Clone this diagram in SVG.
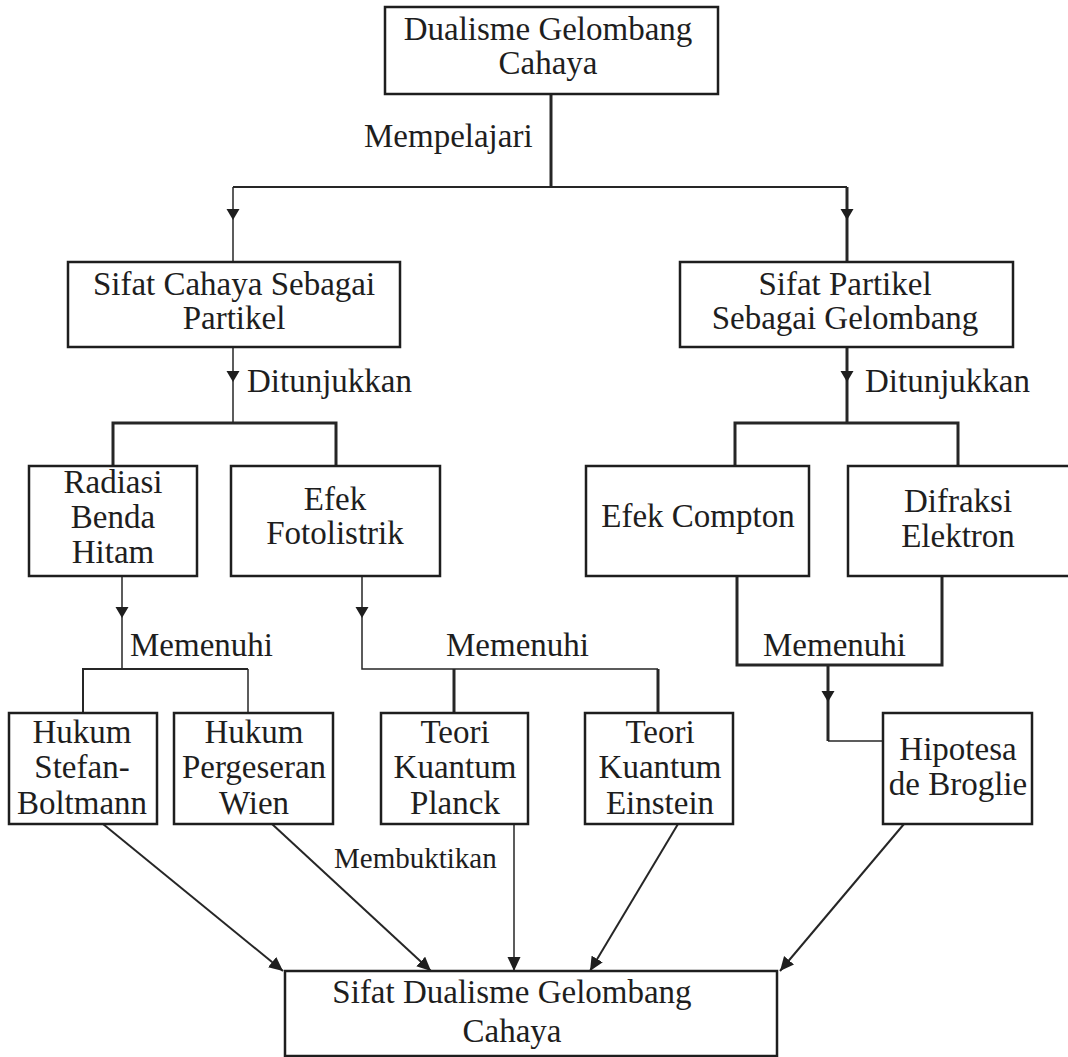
<svg xmlns="http://www.w3.org/2000/svg" width="1068" height="1057" viewBox="0 0 1068 1057">
<style>
text{font-family:"Liberation Serif","Times New Roman",serif;font-size:33px;fill:#1e1e1e;}
.n text{text-anchor:middle;}
.box{fill:#fff;stroke:#1e1e1e;stroke-width:2.5;}
.c path{fill:none;stroke:#262626;}
.t1{stroke-width:1.5;}
.t2{stroke-width:2;}
.t3{stroke-width:3;}
.small{font-size:29px;}
</style>
<defs>
<path id="ah" d="M-6.5,-11 L6.5,-11 L0,0 Z" fill="#1e1e1e"/>
<marker id="arr" markerUnits="userSpaceOnUse" markerWidth="16" markerHeight="14" refX="14" refY="6.5" orient="auto">
<path d="M0,0 L14,6.5 L0,13 Z" fill="#1e1e1e"/>
</marker>
</defs>
<rect width="1068" height="1057" fill="#fff"/>

<g id="connectors" class="c">
<path class="t3" d="M551,94 V187"/>
<path class="t2" d="M233,187 H847"/>
<path class="t1" d="M233,187 V262"/>
<path class="t3" d="M847,187 V262"/>
<path class="t1" d="M233,347 V423"/>
<path class="t3" d="M113,466 V423 H336 V466"/>
<path class="t3" d="M847,347 V423"/>
<path class="t3" d="M735,466 V423 H958 V466"/>
<path class="t1" d="M122,576 V669"/>
<path class="t2" d="M83,713 V669 H248"/>
<path class="t1" d="M248,669 V713"/>
<path class="t1" d="M362,576 V669 H658"/>
<path class="t3" d="M454,669 V713"/>
<path class="t3" d="M658,669 V713"/>
<path class="t3" d="M737,576 V665 H942 V576"/>
<path class="t3" d="M828,665 V741"/>
<path class="t1" d="M828,741 H883"/>
<path class="t2" d="M103,824 L283,971" marker-end="url(#arr)"/>
<path class="t2" d="M272,824 L431,971" marker-end="url(#arr)"/>
<path class="t1" d="M514,824 L514,971" marker-end="url(#arr)"/>
<path class="t2" d="M678,824 L590,971" marker-end="url(#arr)"/>
<path class="t2" d="M904,824 L780,971" marker-end="url(#arr)"/>
<use href="#ah" x="233" y="220"/>
<use href="#ah" x="847" y="220"/>
<use href="#ah" x="233" y="382"/>
<use href="#ah" x="847" y="382"/>
<use href="#ah" x="122" y="618"/>
<use href="#ah" x="362" y="618"/>
<use href="#ah" x="828" y="702"/>
<text x="364" y="147">Mempelajari</text>
<text x="247" y="392">Ditunjukkan</text>
<text x="865" y="392">Ditunjukkan</text>
<text x="130" y="656">Memenuhi</text>
<text x="446" y="656">Memenuhi</text>
<text x="763" y="656">Memenuhi</text>
<text class="small" x="334" y="868">Membuktikan</text>
</g>

<g id="n-dualisme" class="n">
<rect class="box" x="385" y="7" width="333" height="87"/>
<text x="548" y="40">Dualisme Gelombang</text>
<text x="548" y="74">Cahaya</text>
</g>
<g id="n-cahaya-partikel" class="n">
<rect class="box" x="68" y="262" width="332" height="85"/>
<text x="234" y="295">Sifat Cahaya Sebagai</text>
<text x="234" y="329">Partikel</text>
</g>
<g id="n-partikel-gelombang" class="n">
<rect class="box" x="680" y="262" width="333" height="85"/>
<text x="845" y="295">Sifat Partikel</text>
<text x="845" y="329">Sebagai Gelombang</text>
</g>
<g id="n-radiasi" class="n">
<rect class="box" x="29" y="466" width="168" height="110"/>
<text x="113" y="493">Radiasi</text>
<text x="113" y="528">Benda</text>
<text x="113" y="563">Hitam</text>
</g>
<g id="n-fotolistrik" class="n">
<rect class="box" x="231" y="466" width="209" height="110"/>
<text x="335" y="510">Efek</text>
<text x="335" y="544">Fotolistrik</text>
</g>
<g id="n-compton" class="n">
<rect class="box" x="586" y="466" width="223" height="110"/>
<text x="698" y="527">Efek Compton</text>
</g>
<g id="n-difraksi" class="n">
<rect class="box" x="848" y="466" width="230" height="110"/>
<text x="958" y="512">Difraksi</text>
<text x="958" y="547">Elektron</text>
</g>
<g id="n-stefan" class="n">
<rect class="box" x="9" y="713" width="148" height="111"/>
<text x="82" y="743">Hukum</text>
<text x="82" y="778">Stefan-</text>
<text x="82" y="814">Boltmann</text>
</g>
<g id="n-wien" class="n">
<rect class="box" x="174" y="713" width="159" height="111"/>
<text x="254" y="743">Hukum</text>
<text x="254" y="778">Pergeseran</text>
<text x="254" y="814">Wien</text>
</g>
<g id="n-planck" class="n">
<rect class="box" x="381" y="713" width="147" height="111"/>
<text x="455" y="743">Teori</text>
<text x="455" y="778">Kuantum</text>
<text x="455" y="814">Planck</text>
</g>
<g id="n-einstein" class="n">
<rect class="box" x="585" y="713" width="148" height="111"/>
<text x="660" y="743">Teori</text>
<text x="660" y="778">Kuantum</text>
<text x="660" y="814">Einstein</text>
</g>
<g id="n-broglie" class="n">
<rect class="box" x="883" y="713" width="149" height="111"/>
<text x="958" y="760">Hipotesa</text>
<text x="958" y="795">de Broglie</text>
</g>
<g id="n-dualisme-sifat" class="n">
<rect class="box" x="285" y="971" width="492" height="85"/>
<text x="512" y="1003">Sifat Dualisme Gelombang</text>
<text x="512" y="1042">Cahaya</text>
</g>
</svg>
